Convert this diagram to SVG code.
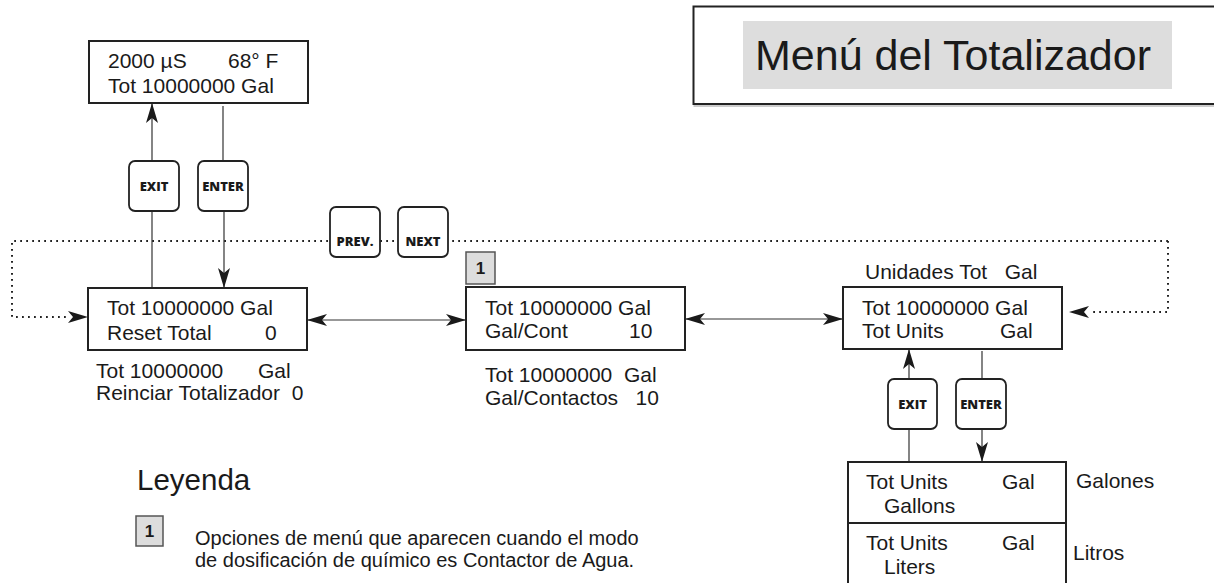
<svg xmlns="http://www.w3.org/2000/svg" width="1214" height="583" viewBox="0 0 1214 583">
<style>
  text{white-space:pre}
  .t{font-family:"Liberation Sans",Arial,sans-serif;font-size:21px;fill:#1a1a1a}
  .box{fill:#fff;stroke:#222;stroke-width:2}
  .btn{fill:#fff;stroke:#222;stroke-width:1.8}
  .bt{font-family:"Open Sans","DejaVu Sans",sans-serif;font-weight:800;font-size:13px;fill:#1a1a1a;text-anchor:middle}
  .ln{fill:none;stroke:#333;stroke-width:1.2}
  .dot{fill:none;stroke:#222;stroke-width:2;stroke-dasharray:1.8 4.2}
  .badge{fill:#ddd;stroke:#555;stroke-width:1.5}
  .bn{font-family:"Liberation Sans",Arial,sans-serif;font-weight:700;font-size:17px;fill:#1a1a1a;text-anchor:middle}
</style>
<defs>
  <marker id="ah" viewBox="0 0 20 12" markerWidth="20" markerHeight="12" refX="20" refY="6" orient="auto-start-reverse" markerUnits="userSpaceOnUse">
    <path d="M0,0 L20,6 L0,12 L5,6 z" fill="#1a1a1a"/>
  </marker>
</defs>
<rect width="1214" height="583" fill="#fff"/>

<g id="title">
  <path d="M1214,6.5 H693.5 V104 H1214" fill="none" stroke="#222" stroke-width="2"/>
  <line x1="693.5" y1="106" x2="1214" y2="106" stroke="#999" stroke-width="1"/>
  <rect x="743" y="21" width="429" height="68" fill="#ddd"/>
  <text x="755" y="70" class="t" style="font-size:43px">Menú del Totalizador</text>
</g>

<g id="connectors">
  <line class="ln" x1="152" y1="211" x2="152" y2="288"/>
  <line class="ln" x1="152" y1="161" x2="152" y2="103" marker-end="url(#ah)"/>
  <line class="ln" x1="223" y1="106" x2="223" y2="161"/>
  <line class="ln" x1="224" y1="211" x2="224" y2="288" marker-end="url(#ah)"/>
  <line class="ln" x1="307" y1="320" x2="466" y2="320" marker-start="url(#ah)" marker-end="url(#ah)"/>
  <line class="ln" x1="685" y1="319" x2="843" y2="319" marker-start="url(#ah)" marker-end="url(#ah)"/>
  <path class="dot" d="M1168,241 H12 V317 H68"/>
  <line x1="66" y1="317" x2="88" y2="317" stroke="none" marker-end="url(#ah)"/>
  <path class="dot" d="M1168,241 V312 H1089"/>
  <line x1="1091" y1="312" x2="1069" y2="312" stroke="none" marker-end="url(#ah)"/>
  <line class="ln" x1="909" y1="379" x2="909" y2="349" marker-end="url(#ah)"/>
  <line class="ln" x1="982" y1="351" x2="982" y2="379"/>
  <line class="ln" x1="909" y1="429" x2="909" y2="462"/>
  <line class="ln" x1="982" y1="429" x2="982" y2="462" marker-end="url(#ah)"/>
</g>

<g id="node-display">
  <rect class="box" x="89" y="41" width="219" height="62"/>
  <text class="t" x="108" y="68">2000 µS</text>
  <text class="t" x="228" y="68">68° F</text>
  <text class="t" x="108" y="93">Tot 10000000 Gal</text>
</g>

<g id="btn-exit-1"><rect class="btn" x="129" y="161" width="50" height="50" rx="6"/><text class="bt" x="154" y="191">EXIT</text></g>
<g id="btn-enter-1"><rect class="btn" x="198" y="161" width="50" height="50" rx="6"/><text class="bt" x="223" y="191">ENTER</text></g>
<g id="btn-prev"><rect class="btn" x="330" y="207" width="50" height="50" rx="6"/><text class="bt" x="355" y="246">PREV.</text></g>
<g id="btn-next"><rect class="btn" x="398" y="207" width="50" height="50" rx="6"/><text class="bt" x="423" y="246">NEXT</text></g>

<g id="node-reset">
  <rect class="box" x="88" y="288" width="219" height="62"/>
  <text class="t" x="107" y="315">Tot 10000000 Gal</text>
  <text class="t" x="107" y="340">Reset Total</text>
  <text class="t" x="265" y="340">0</text>
  <text class="t" x="96" y="378">Tot 10000000</text>
  <text class="t" x="258" y="378">Gal</text>
  <text class="t" x="96" y="400">Reinciar Totalizador  0</text>
</g>

<g id="node-galcont">
  <rect class="badge" x="466" y="252" width="29" height="32"/>
  <text class="bn" x="480.5" y="274">1</text>
  <rect class="box" x="466" y="287" width="219" height="63"/>
  <text class="t" x="485" y="315">Tot 10000000 Gal</text>
  <text class="t" x="485" y="338">Gal/Cont</text>
  <text class="t" x="629" y="338">10</text>
  <text class="t" x="485" y="382">Tot 10000000  Gal</text>
  <text class="t" x="485" y="405">Gal/Contactos   10</text>
</g>

<g id="node-units">
  <text class="t" x="865" y="279">Unidades Tot   Gal</text>
  <rect class="box" x="843" y="287" width="219" height="62"/>
  <text class="t" x="862" y="315">Tot 10000000 Gal</text>
  <text class="t" x="862" y="338">Tot Units</text>
  <text class="t" x="1000" y="338">Gal</text>
</g>

<g id="btn-exit-2"><rect class="btn" x="888" y="379" width="49" height="50" rx="6"/><text class="bt" x="912.5" y="409">EXIT</text></g>
<g id="btn-enter-2"><rect class="btn" x="956" y="379" width="50" height="50" rx="6"/><text class="bt" x="981" y="409">ENTER</text></g>

<g id="node-options">
  <rect class="box" x="848" y="462" width="218" height="61"/>
  <rect class="box" x="848" y="523" width="218" height="70"/>
  <text class="t" x="866" y="489">Tot Units</text>
  <text class="t" x="1002" y="489">Gal</text>
  <text class="t" x="884" y="513">Gallons</text>
  <text class="t" x="866" y="550">Tot Units</text>
  <text class="t" x="1002" y="550">Gal</text>
  <text class="t" x="884" y="574">Liters</text>
  <text class="t" x="1076" y="488">Galones</text>
  <text class="t" x="1073" y="560">Litros</text>
</g>

<g id="legend">
  <text class="t" x="137" y="490" style="font-size:29.5px">Leyenda</text>
  <rect class="badge" x="136" y="516" width="27" height="30"/>
  <text class="bn" x="149.5" y="537">1</text>
  <text class="t" x="195" y="545" style="font-size:20px">Opciones de menú que aparecen cuando el modo</text>
  <text class="t" x="195" y="567" style="font-size:20px">de dosificación de químico es Contactor de Agua.</text>
</g>
</svg>
